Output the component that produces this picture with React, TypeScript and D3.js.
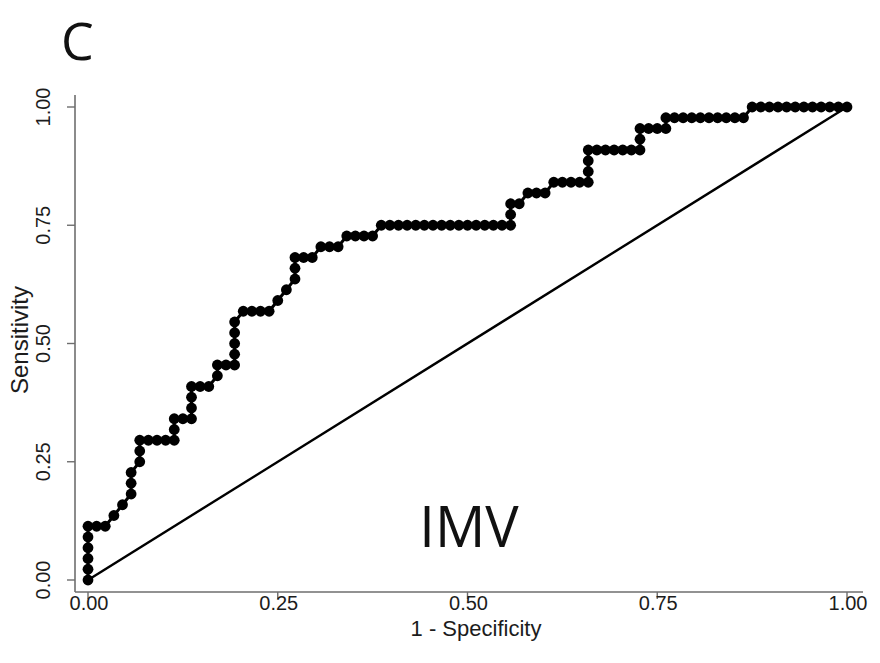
import React from 'react';
import * as d3 from 'd3';

// ROC points as counts: false positives out of nNeg, true positives out of nPos
const nNeg = 88;
const nPos = 44;
const falsePos = [
  0, 0, 0, 0, 0, 0,
  1, 2, 3, 4,
  5, 5, 5, 6, 6, 6,
  7, 8, 9, 10, 10, 10,
  11, 12, 12, 12, 12, 13, 14,
  15, 15, 16, 17, 17, 17, 17, 17,
  18, 19, 20, 21, 22, 23, 24, 24, 24,
  25, 26, 27, 28, 29, 30, 31, 32, 33, 34,
  35, 36, 37, 38, 39, 40, 41, 42, 43, 44, 45, 46, 47, 48, 49,
  49, 49, 50, 51, 52, 53, 54,
  55, 56, 57, 58, 58, 58, 58,
  59, 60, 61, 62, 63, 64, 64, 64,
  65, 66, 67, 67,
  68, 69, 70, 71, 72, 73, 74, 75, 76,
  77, 78, 79, 80, 81, 82, 83, 84, 85, 86, 87, 88,
];
const truePos = [
  0, 1, 2, 3, 4, 5,
  5, 5, 6, 7,
  8, 9, 10, 11, 12, 13,
  13, 13, 13, 13, 14, 15,
  15, 15, 16, 17, 18, 18, 18,
  19, 20, 20, 20, 21, 22, 23, 24,
  25, 25, 25, 25, 26, 27, 28, 29, 30,
  30, 30, 31, 31, 31, 32, 32, 32, 32, 33,
  33, 33, 33, 33, 33, 33, 33, 33, 33, 33, 33, 33, 33, 33, 33,
  34, 35, 35, 36, 36, 36, 37,
  37, 37, 37, 37, 38, 39, 40,
  40, 40, 40, 40, 40, 40, 41, 42,
  42, 42, 42, 43,
  43, 43, 43, 43, 43, 43, 43, 43, 43,
  44, 44, 44, 44, 44, 44, 44, 44, 44, 44, 44, 44,
];
const refLine = [0, 1];
const xTicks = [0, 0.25, 0.5, 0.75, 1];
const yTicks = [0, 0.25, 0.5, 0.75, 1];
const xTitle = '1 - Specificity';
const yTitle = 'Sensitivity';
const panelLabel = 'C';
const groupLabel = 'IMV';

export default function App() {
  const width = 880;
  const height = 663;
  const x = d3.scaleLinear().domain([0, 1]).range([88, 847]);
  const y = d3.scaleLinear().domain([0, 1]).range([580, 107]);
  const fmt = d3.format('.2f');

  const pts = falsePos.map((fp, i) => [fp / nNeg, truePos[i] / nPos]);
  const line = d3.line<number[]>().x(d => x(d[0])).y(d => y(d[1]));

  const axisColor = '#6e6e6e';
  const textColor = '#1c1c1c';
  const tickFont = '"Liberation Sans", Arial, sans-serif';
  const frameLeft = 75;
  const frameBottom = 592;

  return (
    <svg width={width} height={height} style={{ position: 'absolute', left: 0, top: 0, background: '#fff' }}>
      <text x={61} y={60} fontFamily='"Open Sans", sans-serif' fontSize={52} fill="#111">{panelLabel}</text>

      {/* axes */}
      <line x1={frameLeft} x2={frameLeft} y1={95} y2={frameBottom} stroke={axisColor} strokeWidth={1.6} />
      <line x1={frameLeft} x2={863} y1={frameBottom} y2={frameBottom} stroke={axisColor} strokeWidth={1.6} />
      {xTicks.map(t => (
        <g key={'x' + t}>
          <line x1={x(t)} x2={x(t)} y1={frameBottom} y2={frameBottom + 7} stroke={axisColor} strokeWidth={1.4} />
          <text x={x(t) + 1} y={610} textAnchor="middle" fontFamily={tickFont} fontSize={20} fill={textColor}>{fmt(t)}</text>
        </g>
      ))}
      {yTicks.map(t => (
        <g key={'y' + t}>
          <line x1={frameLeft - 8} x2={frameLeft} y1={y(t)} y2={y(t)} stroke={axisColor} strokeWidth={1.4} />
          <text transform={`translate(50,${y(t)}) rotate(-90)`} textAnchor="middle" fontFamily={tickFont} fontSize={20} fill={textColor}>{fmt(t)}</text>
        </g>
      ))}
      <text x={476} y={636} textAnchor="middle" fontFamily={tickFont} fontSize={22} fill={textColor}>{xTitle}</text>
      <text transform="translate(28,340) rotate(-90)" textAnchor="middle" fontFamily={tickFont} fontSize={24} fill={textColor}>{yTitle}</text>

      {/* reference diagonal */}
      <line x1={x(refLine[0])} y1={y(refLine[0])} x2={x(refLine[1])} y2={y(refLine[1])} stroke="#000" strokeWidth={2.4} />

      {/* ROC curve */}
      <path d={line(pts) || ''} fill="none" stroke="#000" strokeWidth={3} />
      {pts.map((d, i) => (
        <circle key={i} cx={x(d[0])} cy={y(d[1])} r={5.4} fill="#000" />
      ))}

      <text x={469} y={547} textAnchor="middle" fontFamily='"Open Sans", sans-serif' fontSize={56} fill="#111">{groupLabel}</text>
    </svg>
  );
}
